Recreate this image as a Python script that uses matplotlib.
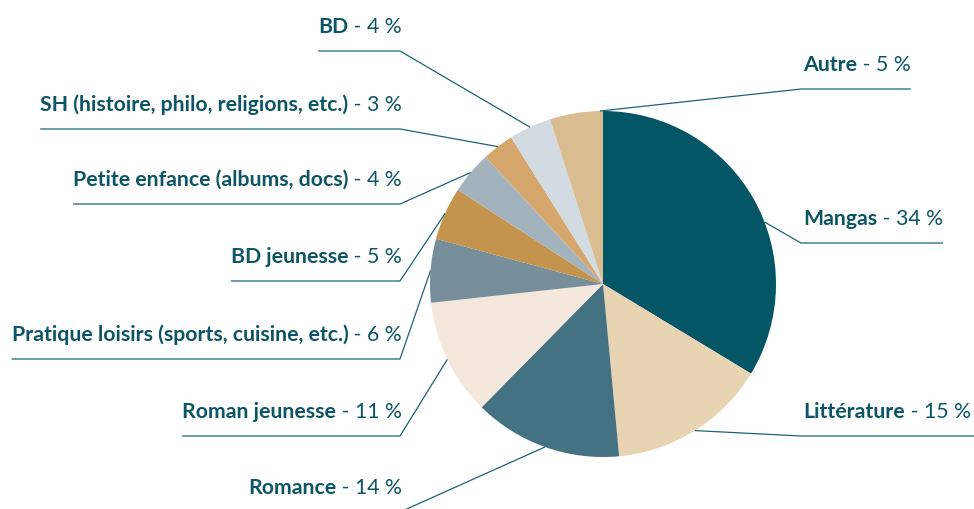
import numpy as np
import matplotlib
matplotlib.use("Agg")
import matplotlib.pyplot as plt

# data, clockwise from 12 o'clock
categories = ["Mangas", "Littérature", "Romance", "Roman jeunesse",
              "Pratique loisirs (sports, cuisine, etc.)", "BD jeunesse",
              "Petite enfance (albums, docs)", "SH (histoire, philo, religions, etc.)",
              "BD", "Autre"]
shares = [34, 15, 14, 11, 6, 5, 4, 3, 4, 5]
colors = ["#045566", "#E8D3B3", "#447283", "#F4E8DC", "#778F9B",
          "#C4944F", "#A3B3BE", "#D5A76D", "#D3DBE2", "#D9BC8F"]

TEXT = "#0B5566"
LINE = "#1D6373"
FONT = "Lato"
FS = 15.3

# label layout: side, baseline y (px), leader angle override (deg clockwise from top)
label_y = [225, 418, 494, 418, 341, 263, 186, 111, 33, 71]
label_side = ["R", "R", "L", "L", "L", "L", "L", "L", "L", "R"]
angle_override = {0: 69, 9: 359}

W, H = 974, 510
cx, cy, rad = 603, 285, 173
x_left, x_right = 402, 803

fig = plt.figure(figsize=(W / 100, H / 100), dpi=100)
ax = fig.add_axes([0, 0, 1, 1])

# y axis is flipped below, so startangle -90 is the top and
# counterclock=True runs clockwise on screen
ax.pie(shares, colors=colors, startangle=-90, counterclock=True,
       center=(cx, cy), radius=rad, wedgeprops=dict(linewidth=0))
ax.set_xlim(0, W)
ax.set_ylim(H, 0)
ax.set_aspect("equal")
ax.axis("off")

renderer = fig.canvas.get_renderer()

def text_width(t):
    bb = t.get_window_extent(renderer)
    return bb.width

total = sum(shares)
cum = np.cumsum([0] + shares)
for i, name in enumerate(categories):
    pct = f" - {shares[i]} %"
    ypos = label_y[i]
    if label_side[i] == "L":
        t2 = ax.text(x_left, ypos, pct, ha="right", va="baseline",
                     fontsize=FS, family=FONT, color=TEXT)
        w2 = text_width(t2)
        t1 = ax.text(x_left - w2, ypos, name, ha="right", va="baseline",
                     fontsize=FS, family=FONT, fontweight="bold", color=TEXT)
        w1 = text_width(t1)
        x_far = x_left - w1 - w2
        x_elbow = x_left - 2
    else:
        t1 = ax.text(x_right, ypos, name, ha="left", va="baseline",
                     fontsize=FS, family=FONT, fontweight="bold", color=TEXT)
        w1 = text_width(t1)
        t2 = ax.text(x_right + w1, ypos, pct, ha="left", va="baseline",
                     fontsize=FS, family=FONT, color=TEXT)
        w2 = text_width(t2)
        x_far = x_right + w1 + w2
        if i == 1:
            x_far = W
        x_elbow = x_right - 2
    ang = angle_override.get(i, (cum[i] + shares[i] / 2) / total * 360)
    a = np.deg2rad(ang)
    px = cx + rad * np.sin(a)
    py = cy - rad * np.cos(a)
    y_line = ypos + 19
    ax.plot([px, x_elbow, x_far], [py, y_line, y_line], color=LINE,
            linewidth=0.9, solid_capstyle="butt")

fig.savefig("out.png", dpi=100)
